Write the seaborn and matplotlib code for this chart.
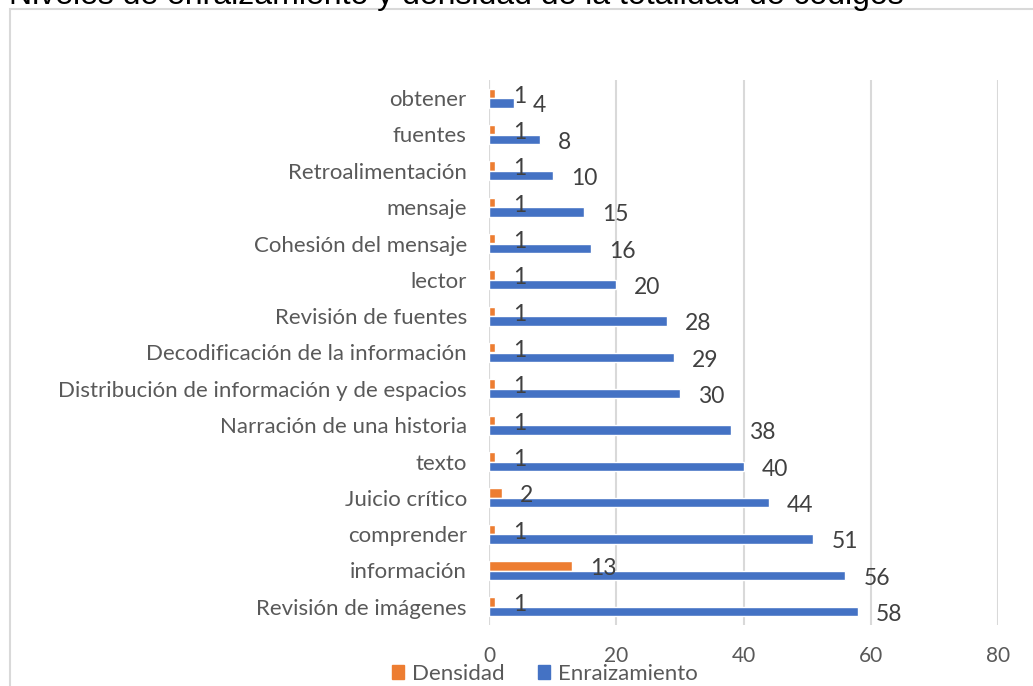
import matplotlib
matplotlib.use("Agg")
import matplotlib.pyplot as plt
from matplotlib.patches import Rectangle, Patch
import seaborn as sns
import pandas as pd

ORANGE = "#ED7D31"
BLUE = "#4472C4"
GRID = "#D9D9D9"
TICK = "#595959"
LABEL = "#404040"

# categories top to bottom, as in the reference
categorias = ["obtener", "fuentes", "Retroalimentación", "mensaje",
              "Cohesión del mensaje", "lector", "Revisión de fuentes",
              "Decodificación de la información",
              "Distribución de información y de espacios",
              "Narración de una historia", "texto", "Juicio crítico",
              "comprender", "información", "Revisión de imágenes"]
enraizamiento = [4, 8, 10, 15, 16, 20, 28, 29, 30, 38, 40, 44, 51, 56, 58]
densidad = [1, 1, 1, 1, 1, 1, 1, 1, 1, 1, 1, 2, 1, 13, 1]
series = ["Densidad", "Enraizamiento"]
xticks = [0, 20, 40, 60, 80]
titulo = "Niveles de enraizamiento y densidad de la totalidad de códigos"

df = pd.DataFrame({
    "categoria": categorias * 2,
    "valor": densidad + enraizamiento,
    "serie": ["Densidad"] * len(categorias) + ["Enraizamiento"] * len(categorias),
})

sns.set_theme(style="white")
plt.rcParams["font.family"] = ["Lato", "DejaVu Sans"]

fig = plt.figure(figsize=(10.33, 6.86), dpi=100)
ax = fig.add_axes([489 / 1033, 1 - 625 / 686, 509 / 1033, 545 / 686])

sns.barplot(data=df, y="categoria", x="valor", hue="serie", hue_order=series,
            order=categorias, orient="h", palette=[ORANGE, BLUE],
            width=0.52, gap=0, ax=ax, legend=False, saturation=1)

ax.set_xlim(0, 80)
ax.set_xticks(xticks)
ax.grid(axis="x", color=GRID, linewidth=1.5)
ax.set_axisbelow(True)
for s in ax.spines.values():
    s.set_visible(False)
ax.axvline(0, color=GRID, linewidth=1.5, zorder=0)
ax.set_xlabel("")
ax.set_ylabel("")
ax.tick_params(axis="x", colors=TICK, labelsize=15, length=0, pad=15)
ax.tick_params(axis="y", colors=TICK, labelsize=16, length=0, pad=16)
ax.set_ylim(len(categorias) - 0.5, -0.5)

# data labels, offset right and a little down like the original
for cont, vals in zip(ax.containers, [densidad, enraizamiento]):
    for bar, v in zip(cont, vals):
        y = bar.get_y() + bar.get_height() / 2
        ax.annotate(str(v), xy=(bar.get_width(), y), xytext=(13, -2),
                    textcoords="offset points", ha="left", va="center",
                    fontsize=16.5, color=LABEL)

handles = [Patch(color=ORANGE, label="Densidad"), Patch(color=BLUE, label="Enraizamiento")]
leg = fig.legend(handles=handles, loc="center", bbox_to_anchor=(545 / 1033, 1 - 674 / 686),
                 ncol=2, frameon=False, fontsize=16, handlelength=0.55, handleheight=0.55,
                 handletextpad=0.35, columnspacing=1.5, borderpad=0)
for t in leg.get_texts():
    t.set_color(TICK)

# chart area border (extends off the picture)
fig.patches.append(Rectangle((10 / 1033, -0.1), 1.2, 1 - 8.5 / 686 + 0.1,
                             transform=fig.transFigure, fill=False,
                             edgecolor=GRID, linewidth=1.5))

# title, clipped at the top of the picture
fig.text(9 / 1033, 1 - 4 / 686, titulo, ha="left", va="baseline",
         fontsize=23, color="black", family=["Liberation Sans", "DejaVu Sans"])

fig.savefig("out.png", dpi=100)
